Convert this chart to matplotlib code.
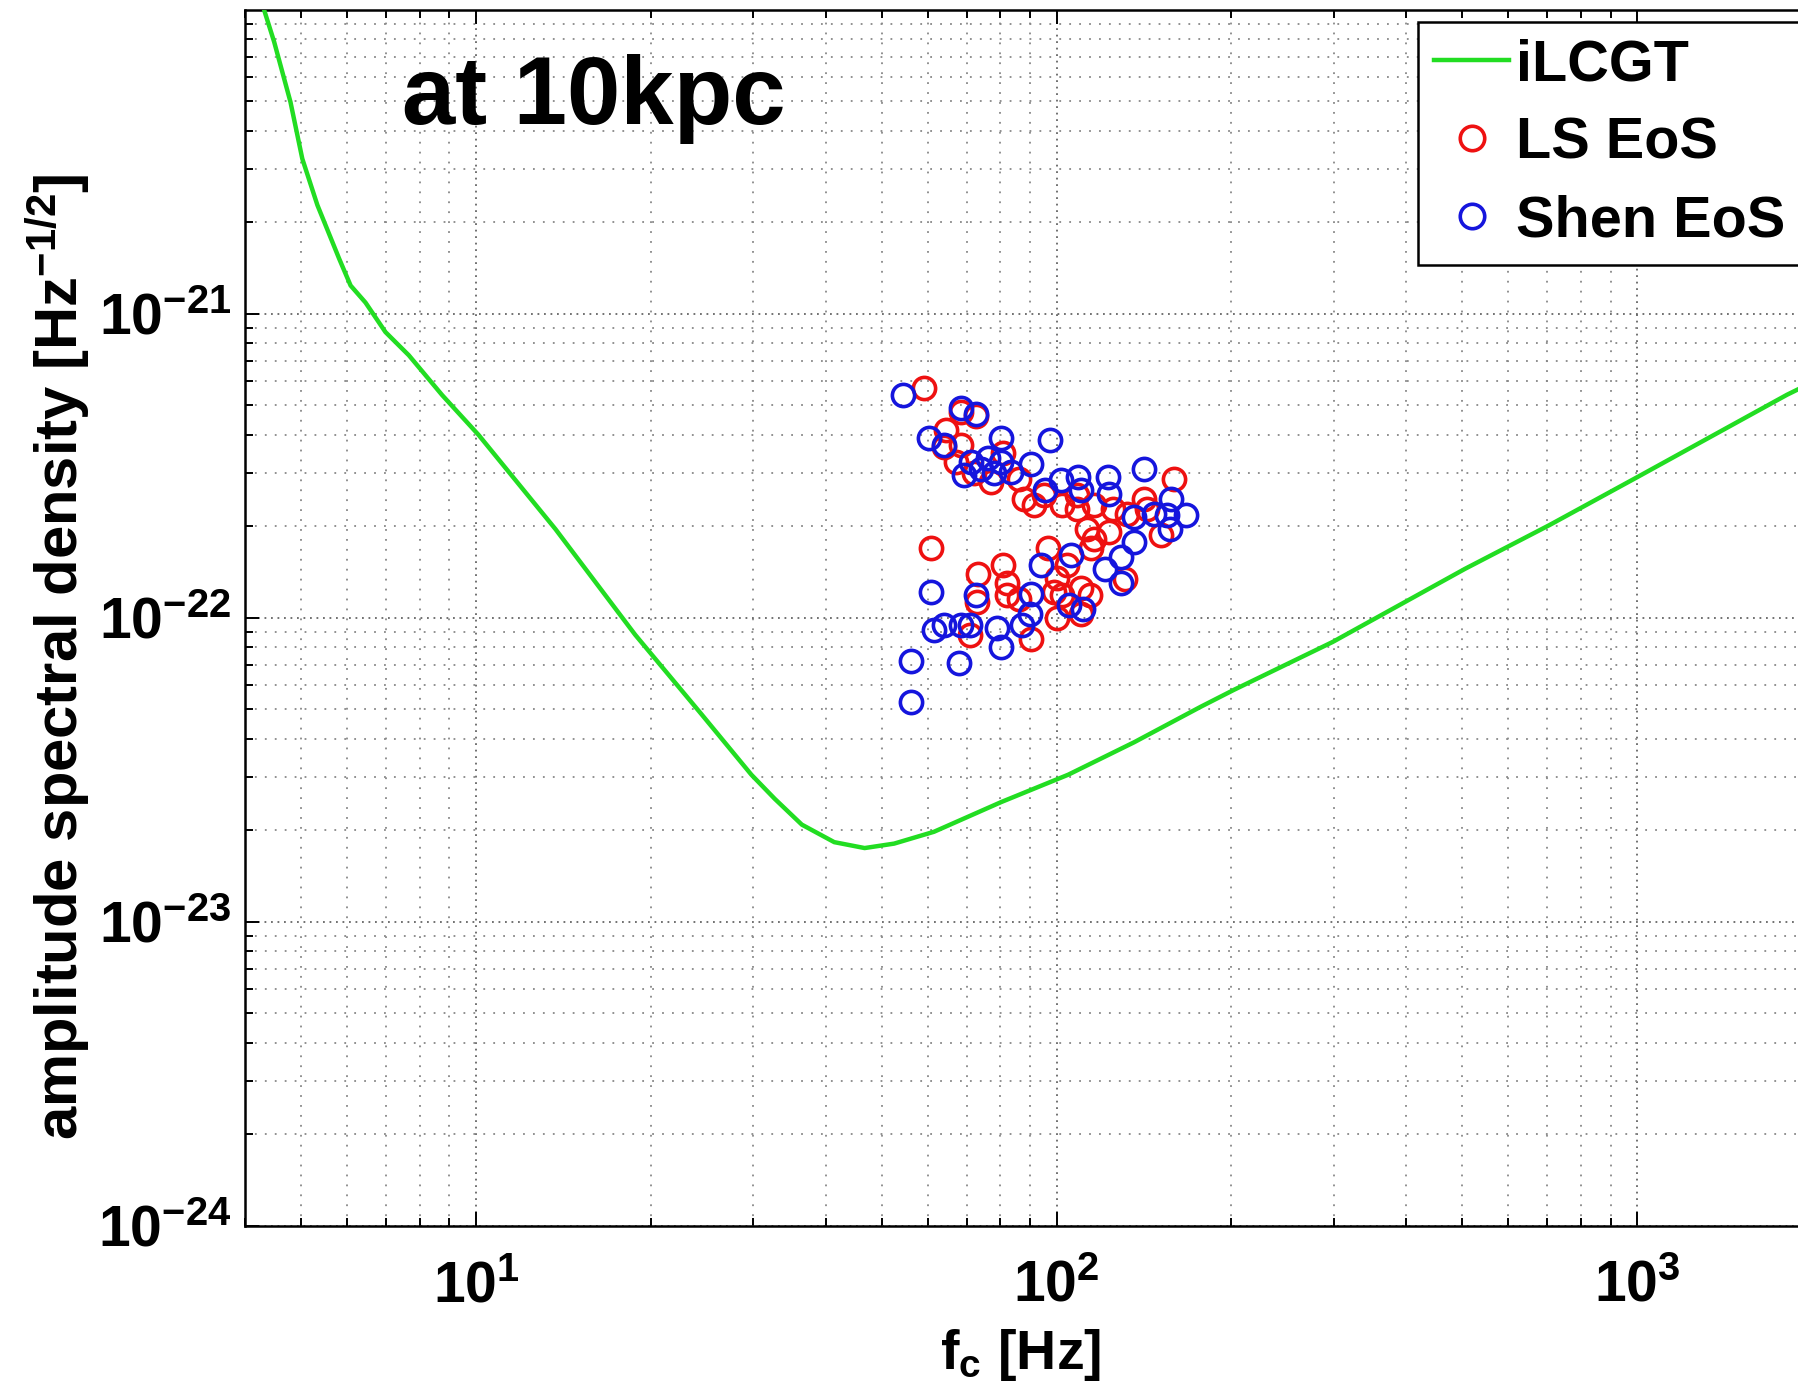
import matplotlib
matplotlib.use("Agg")
import matplotlib.pyplot as plt
from matplotlib.ticker import LogLocator, NullFormatter

plt.rcParams['font.family'] = ['Liberation Sans', 'DejaVu Sans']
plt.rcParams['mathtext.default'] = 'regular'
plt.rcParams['axes.unicode_minus'] = False

# iLCGT noise curve
ilcgt_f = [4.28, 4.49, 4.79, 5.02, 5.33, 5.81, 6.08, 6.45, 6.98, 7.66, 8.74, 10.1, 13.7,
           18.8, 24.5, 29.8, 32.7, 36.4, 41.4, 46.7, 52.5, 61.5, 80.3, 104.7, 136, 177,
           202, 299, 505, 706, 1002, 1811, 2000]
ilcgt_h = [1.05e-20, 7.85e-21, 4.98e-21, 3.24e-21, 2.28e-21, 1.52e-21, 1.24e-21, 1.09e-21,
           8.72e-22, 7.31e-22, 5.41e-22, 4.0e-22, 1.96e-22, 8.8e-23, 4.8e-23, 3.05e-23,
           2.54e-23, 2.09e-23, 1.83e-23, 1.75e-23, 1.81e-23, 1.98e-23, 2.48e-23, 3.05e-23,
           3.9e-23, 5.1e-23, 5.8e-23, 8.34e-23, 1.45e-22, 2.02e-22, 2.91e-22, 5.42e-22,
           5.95e-22]

# LS EoS
ls_f = [59, 60.8, 64.5, 68.5, 72.7, 64, 68.5, 72, 81, 86, 88, 95, 102, 108.5, 116, 125,
        141.5, 159, 132, 116, 123, 114.5, 96.5, 81, 73.3, 100, 82, 110, 114, 131, 82, 73,
        100, 90.4, 110, 99, 143, 151, 71, 86, 104, 113, 77.2, 67, 91.5, 108.5, 102]
ls_h = [5.7e-22, 1.7e-22, 4.15e-22, 4.76e-22, 4.6e-22, 3.65e-22, 3.7e-22, 3.0e-22, 3.5e-22,
        2.86e-22, 2.47e-22, 2.54e-22, 2.36e-22, 2.54e-22, 2.36e-22, 2.29e-22, 2.47e-22,
        2.86e-22, 2.2e-22, 1.82e-22, 1.92e-22, 1.7e-22, 1.7e-22, 1.49e-22, 1.4e-22,
        1.35e-22, 1.3e-22, 1.25e-22, 1.19e-22, 1.34e-22, 1.19e-22, 1.13e-22, 1.0e-22,
        8.5e-23, 1.03e-22, 1.22e-22, 2.29e-22, 1.88e-22, 8.8e-23, 1.15e-22, 1.49e-22,
        1.96e-22, 2.8e-22, 3.26e-22, 2.36e-22, 2.29e-22, 1.19e-22]

# Shen EoS
shen_f = [54.3, 60.4, 68.5, 72.7, 97.3, 80.3, 64, 71.3, 76.2, 80.3, 83.5, 69.3, 78, 74.2,
          90.4, 95.5, 101.8, 109, 110, 122.4, 123, 141.5, 157.3, 167, 155, 157, 147, 136,
          136, 129, 121, 129, 106, 94, 90.4, 105, 111, 72.7, 68.5, 64, 61.5, 60.8, 79,
          80.3, 56.2, 68, 56.2, 87, 90, 71]
shen_h = [5.4e-22, 3.9e-22, 4.9e-22, 4.7e-22, 3.85e-22, 3.9e-22, 3.7e-22, 3.26e-22,
          3.35e-22, 3.26e-22, 3.02e-22, 2.95e-22, 3.0e-22, 3.1e-22, 3.2e-22, 2.63e-22,
          2.84e-22, 2.9e-22, 2.63e-22, 2.9e-22, 2.56e-22, 3.08e-22, 2.47e-22, 2.18e-22,
          2.18e-22, 1.96e-22, 2.2e-22, 2.15e-22, 1.78e-22, 1.59e-22, 1.45e-22, 1.3e-22,
          1.61e-22, 1.49e-22, 1.2e-22, 1.1e-22, 1.07e-22, 1.19e-22, 9.5e-23, 9.5e-23,
          9.1e-23, 1.22e-22, 9.3e-23, 8.0e-23, 7.2e-23, 7.1e-23, 5.3e-23, 9.5e-23,
          1.03e-22, 9.5e-23]

xlim = (4, 2000)
ylim = (1e-24, 1e-20)
xticks = [10, 100, 1000]
yticks = [1e-24, 1e-23, 1e-22, 1e-21]

fig = plt.figure(figsize=(17.99, 13.99), dpi=100)
ax = fig.add_axes([0.1362, 0.1237, 0.8710, 0.8692])
ax.set_xscale('log')
ax.set_yscale('log')

ax.plot(ilcgt_f, ilcgt_h, color='#22dd22', lw=3.2, label='iLCGT', zorder=3)
ax.plot(ls_f, ls_h, ls='none', marker='o', ms=16, mfc='none', mec='#ee1111', mew=2.6,
        label='LS EoS', zorder=4)
ax.plot(shen_f, shen_h, ls='none', marker='o', ms=16, mfc='none', mec='#1515dd', mew=2.6,
        label='Shen EoS', zorder=5)

ax.set_xticks(xticks)
ax.set_yticks(yticks)
ax.xaxis.set_minor_locator(LogLocator(base=10, subs=range(2, 10), numticks=30))
ax.yaxis.set_minor_locator(LogLocator(base=10, subs=range(2, 10), numticks=30))
ax.xaxis.set_minor_formatter(NullFormatter())
ax.yaxis.set_minor_formatter(NullFormatter())
ax.set_xlim(*xlim)
ax.set_ylim(*ylim)

ax.grid(True, which='major', ls=(0, (1, 2.6)), lw=1.3, color='#666666')
ax.grid(True, which='minor', ls=(0, (1, 4.5)), lw=1.3, color='#888888')
ax.set_axisbelow(True)

ax.tick_params(which='both', direction='in', top=True, right=True, width=1.4,
               labelsize=41)
ax.tick_params(which='major', length=10)
ax.tick_params(which='minor', length=6)
ax.tick_params(axis='y', pad=10)
ax.tick_params(axis='x', pad=24)
for lab in ax.get_xticklabels() + ax.get_yticklabels():
    lab.set_fontweight('bold')
for s in ax.spines.values():
    s.set_linewidth(1.8)

ax.set_xlabel(r'f$_\mathregular{c}$ [Hz]', fontsize=40, fontweight='bold')
ax.set_ylabel(r'amplitude spectral density [Hz$^\mathregular{-1/2}$]', fontsize=43,
              fontweight='bold')
ax.xaxis.set_label_coords(0.495, -0.083)
ax.yaxis.set_label_coords(-0.097, 0.468)

leg = ax.legend(loc='upper left', bbox_to_anchor=(1418 / 1799, 1 - 22 / 1399),
                bbox_transform=fig.transFigure, prop={'weight': 'bold', 'size': 41.5},
                frameon=True, fancybox=False, edgecolor='black', framealpha=1,
                handlelength=1.3, handletextpad=0.12, borderpad=0.28, labelspacing=0.42,
                numpoints=1, borderaxespad=0, markerscale=1.1)
leg.get_frame().set_linewidth(1.8)

fig.text(402 / 1799, 1 - 124 / 1399, 'at 10kpc', fontsize=69, fontweight='bold',
         ha='left', va='baseline')

fig.savefig('out.png', dpi=100)
